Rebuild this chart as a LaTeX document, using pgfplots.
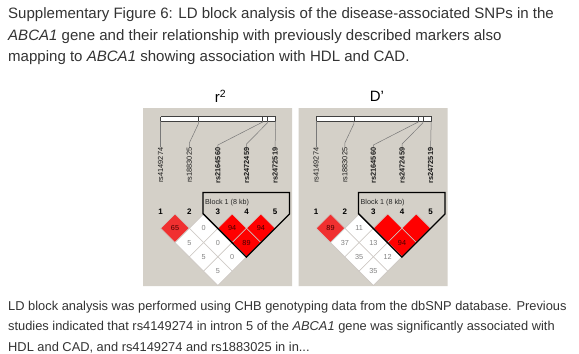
\documentclass[border=0pt]{standalone}
\usepackage{fontspec}
\setmainfont{Liberation Sans}
\usepackage{pgfplots}
\pgfplotsset{compat=1.18}
\definecolor{panelgrey}{RGB}{212,208,200}
\definecolor{txt}{RGB}{51,51,51}
\definecolor{cellline}{RGB}{205,200,195}
\definecolor{redA}{RGB}{255,0,0}
\definecolor{redB}{RGB}{240,48,48}
\definecolor{numgrey}{RGB}{130,130,130}
\definecolor{numdark}{RGB}{70,0,0}
\definecolor{connline}{RGB}{120,120,120}
\tikzset{cellnum/.style={font=\fontsize{7.3}{7.3}\selectfont, inner sep=0pt}}
\newcommand{\cell}[6]{%
 \pgfmathsetmacro{\cx}{#1+160.7+(#2+#3-2)*14.3}%
 \pgfmathsetmacro{\cy}{228.3+(#3-#2-1)*14.3}%
 \pgfmathsetmacro{\xl}{\cx-14.3}%
 \pgfmathsetmacro{\xr}{\cx+14.3}%
 \pgfmathsetmacro{\yt}{\cy-14.3}%
 \pgfmathsetmacro{\yb}{\cy+14.3}%
 \edef\tmp{\noexpand\addplot[fill=#5, draw=cellline, line width=0.6bp] coordinates {(\cx,\yt) (\xr,\cy) (\cx,\yb) (\xl,\cy) (\cx,\yt)};
 \noexpand\node[cellnum, text=#6] at (axis cs:\cx,\cy) {#4};}\tmp}
\newcommand{\panel}[1]{%
 \pgfmathsetmacro{\ox}{#1}%
 \pgfmathsetmacro{\pa}{143+\ox}\pgfmathsetmacro{\pb}{292+\ox}%
 \pgfmathsetmacro{\ga}{160.7+\ox}\pgfmathsetmacro{\gb}{275.7+\ox}%
 \pgfmathsetmacro{\ta}{198.3+\ox}\pgfmathsetmacro{\tb}{262.7+\ox}\pgfmathsetmacro{\tc}{267.3+\ox}%
 \pgfmathsetmacro{\la}{160.7+\ox}\pgfmathsetmacro{\lb}{189.3+\ox}\pgfmathsetmacro{\lc}{217.9+\ox}\pgfmathsetmacro{\ld}{246.5+\ox}\pgfmathsetmacro{\le}{275.1+\ox}%
 \pgfmathsetmacro{\bt}{205+\ox}%
 \edef\tmp{%
 \noexpand\addplot[fill=panelgrey, draw=none] coordinates {(\pa,108) (\pb,108) (\pb,286) (\pa,286) (\pa,108)};
 \noexpand\addplot[fill=white, draw=black!75, line width=0.6bp] coordinates {(\ga,116.7) (\gb,116.7) (\gb,121) (\ga,121) (\ga,116.7)};
 \noexpand\addplot[draw=black!75, line width=0.6bp] coordinates {(\ta,116.7) (\ta,121)};
 \noexpand\addplot[draw=black!75, line width=0.6bp] coordinates {(\tb,116.7) (\tb,121)};
 \noexpand\addplot[draw=black!75, line width=0.6bp] coordinates {(\tc,116.7) (\tc,121)};
 \noexpand\addplot[draw=connline, line width=0.5bp] coordinates {(\ga,121) (\la,147)};
 \noexpand\addplot[draw=connline, line width=0.5bp] coordinates {(\ta,121) (\ta,124) (\lb,143) (\lb,147)};
 \noexpand\addplot[draw=connline, line width=0.5bp] coordinates {(\tb,121) (\tb,122) (\lc,145) (\lc,147)};
 \noexpand\addplot[draw=connline, line width=0.5bp] coordinates {(\tc,121) (\tc,123) (\ld,144) (\ld,147)};
 \noexpand\addplot[draw=connline, line width=0.5bp] coordinates {(\gb,121) (\le,147)};
 \noexpand\node[rslab] at (axis cs:\la,147.5) {rs4149274};
 \noexpand\node[rslab] at (axis cs:\lb,147.5) {rs1883025};
 \noexpand\node[rslab, rsbold] at (axis cs:\lc,147.5) {rs2164560};
 \noexpand\node[rslab, rsbold] at (axis cs:\ld,147.5) {rs2472459};
 \noexpand\node[rslab, rsbold] at (axis cs:\le,147.5) {rs2472519};
 \noexpand\node[posnum] at (axis cs:\la,211.7) {1};
 \noexpand\node[posnum] at (axis cs:\lb,211.7) {2};
 \noexpand\node[posnum] at (axis cs:\lc,211.7) {3};
 \noexpand\node[posnum] at (axis cs:\ld,211.7) {4};
 \noexpand\node[posnum] at (axis cs:\le,211.7) {5};
 \noexpand\node[blocklab] at (axis cs:\bt,202.3) {Block 1 (8 kb)};
 }\tmp}
\newcommand{\blockline}[1]{%
 \pgfmathsetmacro{\ox}{#1}%
 \pgfmathsetmacro{\ba}{203+\ox}\pgfmathsetmacro{\bb}{289.5+\ox}\pgfmathsetmacro{\bc}{246.4+\ox}%
 \edef\tmp{\noexpand\addplot[draw=black, line width=1.3bp, line join=miter] coordinates {(\ba,213.6) (\ba,192.5) (\bb,192.5) (\bb,214) (\bc,257.1) (\ba,213.6) (\ba,192.5)};}\tmp}
\tikzset{
 rslab/.style={rotate=90, anchor=east, inner sep=0pt, font=\fontsize{7.4}{7.4}\selectfont, text=black!90},
 rsbold/.style={font=\fontsize{7.4}{7.4}\selectfont\bfseries},
 posnum/.style={inner sep=0pt, font=\fontsize{8}{8}\selectfont\bfseries, text=black},
 blocklab/.style={anchor=west, inner sep=0pt, font=\fontsize{7.2}{7.2}\selectfont, text=black!85},
 captxt/.style={anchor=base west, inner sep=0pt, font=\fontsize{15.1}{16}\selectfont, text=txt},
 bodytxt/.style={anchor=base west, inner sep=0pt, font=\fontsize{12.9}{14}\selectfont, text=txt}
}
\begin{document}
\begin{tikzpicture}
\begin{axis}[hide axis, scale only axis, width=579bp, height=354bp,
  xmin=0, xmax=579, ymin=0, ymax=354, y dir=reverse, clip=false, no markers]
\addplot[fill=white, draw=none] coordinates {(0,0) (579,0) (579,354) (0,354) (0,0)};
\node[captxt] at (axis cs:8,18.5) {Supplementary Figure 6: LD block analysis of the disease-associated SNPs in the};
\node[captxt] at (axis cs:8,40) {\textit{ABCA1} gene and their relationship with previously described markers also};
\node[captxt] at (axis cs:8,61.5) {mapping to \textit{ABCA1} showing association with HDL and CAD.};
\node[inner sep=0pt, font=\fontsize{15}{15}\selectfont, text=black] at (axis cs:220.5,96) {r\textsuperscript{2}};
\node[inner sep=0pt, font=\fontsize{15}{15}\selectfont, text=black] at (axis cs:377,96) {D’};
\panel{0}
\panel{155.5}
% r^2 panel
\cell{0}{1}{2}{65}{redB}{numdark}
\cell{0}{2}{3}{0}{white}{numgrey}
\cell{0}{3}{4}{94}{redA}{numdark}
\cell{0}{4}{5}{94}{redA}{numdark}
\cell{0}{1}{3}{5}{white}{numgrey}
\cell{0}{2}{4}{0}{white}{numgrey}
\cell{0}{3}{5}{89}{redA}{numdark}
\cell{0}{1}{4}{5}{white}{numgrey}
\cell{0}{2}{5}{0}{white}{numgrey}
\cell{0}{1}{5}{5}{white}{numgrey}
% D' panel
\cell{155.5}{1}{2}{89}{redB}{numdark}
\cell{155.5}{2}{3}{11}{white}{numgrey}
\cell{155.5}{3}{4}{}{redA}{numdark}
\cell{155.5}{4}{5}{}{redA}{numdark}
\cell{155.5}{1}{3}{37}{white}{numgrey}
\cell{155.5}{2}{4}{13}{white}{numgrey}
\cell{155.5}{3}{5}{94}{redA}{numdark}
\cell{155.5}{1}{4}{35}{white}{numgrey}
\cell{155.5}{2}{5}{12}{white}{numgrey}
\cell{155.5}{1}{5}{35}{white}{numgrey}
\blockline{0}
\blockline{155.5}
\node[bodytxt] at (axis cs:8,310) {LD block analysis was performed using CHB genotyping data from the dbSNP database. Previous};
\node[bodytxt] at (axis cs:8,330.5) {studies indicated that rs4149274 in intron 5 of the \textit{ABCA1} gene was significantly associated with};
\node[bodytxt] at (axis cs:8,351) {HDL and CAD, and rs4149274 and rs1883025 in in...};
\end{axis}
\end{tikzpicture}
\end{document}
